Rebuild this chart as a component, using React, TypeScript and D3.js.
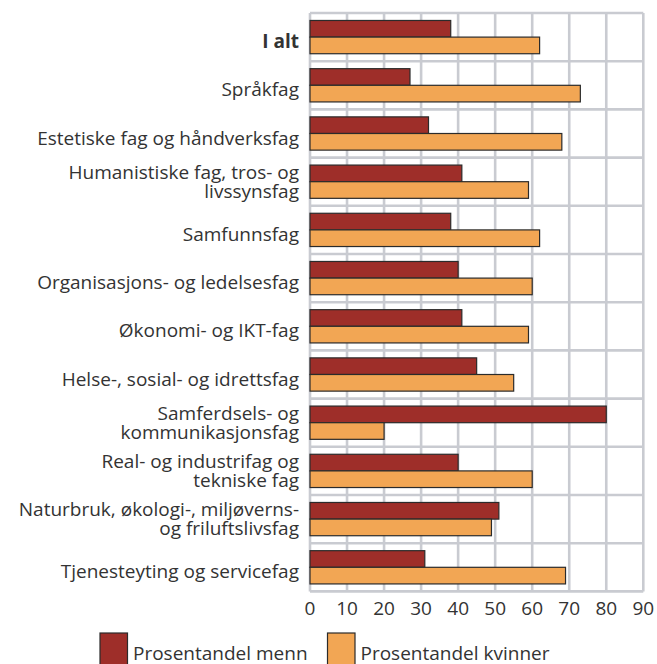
import React from "react";
import * as d3 from "d3";

const categories: string[][] = [
  ["I alt"],
  ["Språkfag"],
  ["Estetiske fag og håndverksfag"],
  ["Humanistiske fag, tros- og", "livssynsfag"],
  ["Samfunnsfag"],
  ["Organisasjons- og ledelsesfag"],
  ["Økonomi- og IKT-fag"],
  ["Helse-, sosial- og idrettsfag"],
  ["Samferdsels- og", "kommunikasjonsfag"],
  ["Real- og industrifag og", "tekniske fag"],
  ["Naturbruk, økologi-, miljøverns-", "og friluftslivsfag"],
  ["Tjenesteyting og servicefag"],
];
const menn: number[] = [38, 27, 32, 41, 38, 40, 41, 45, 80, 40, 51, 31];
const kvinner: number[] = [62, 73, 68, 59, 62, 60, 59, 55, 20, 60, 49, 69];
const seriesNames: string[] = ["Prosentandel menn", "Prosentandel kvinner"];
const xTicks: number[] = [0, 10, 20, 30, 40, 50, 60, 70, 80, 90];

const W = 657;
const H = 664;
const left = 310;
const right = 643.3;
const top = 13;
const bottom = 591.4;
const FONT = "'Open Sans', sans-serif";
const colors = ["#9e2e29", "#f2a654"];
const gridColor = "#c9cbd1";

export default function App() {
  React.useEffect(() => {
    document.body.style.margin = "0";
  }, []);
  const keys = categories.map((c) => c.join(" "));
  const x = d3.scaleLinear().domain([0, 90]).range([left, right]);
  const y = d3
    .scaleBand<string>()
    .domain(keys)
    .range([top, bottom])
    .paddingInner(0.31)
    .paddingOuter(0.155);
  const yi = d3.scaleBand<string>().domain(seriesNames).range([0, y.bandwidth()]);
  const step = y.step();
  const rows = categories.map((c, i) => ({ label: c, key: keys[i], vals: [menn[i], kvinner[i]] }));
  const fs = 19;

  return (
    <svg width={W} height={H} style={{ display: "block", position: "absolute", left: 0, top: 0 }} fontFamily={FONT}>
      <rect width={W} height={H} fill="#fff" />
      {/* grid */}
      {keys.map((k, i) => (
        <line key={"h" + i} x1={left} x2={right} y1={top + step * i} y2={top + step * i} stroke={gridColor} strokeWidth={2.6} />
      ))}
      <line x1={left} x2={right} y1={bottom} y2={bottom} stroke={gridColor} strokeWidth={2.6} />
      {xTicks.map((t) => (
        <line key={"v" + t} x1={x(t)} x2={x(t)} y1={top} y2={bottom} stroke={gridColor} strokeWidth={2.6} />
      ))}
      {/* bars */}
      {rows.map((r) =>
        r.vals.map((v, j) => (
          <rect
            key={r.key + j}
            x={x(0)}
            y={(y(r.key) as number) + (yi(seriesNames[j]) as number)}
            width={x(v) - x(0)}
            height={yi.bandwidth()}
            fill={colors[j]}
            stroke="#2b2b2b"
            strokeWidth={1.2}
          />
        ))
      )}
      {/* category labels */}
      {rows.map((r, i) => {
        const c = (y(r.key) as number) + y.bandwidth() / 2;
        const lines = r.label;
        const bases = lines.length === 1 ? [c + 11] : [c - 3, c + 16];
        return (
          <text key={"l" + i} fontSize={fs} fill="#333" textAnchor="end" fontWeight={i === 0 ? 700 : 400}>
            {lines.map((ln, k) => (
              <tspan key={k} x={299} y={bases[k]}>
                {ln}
              </tspan>
            ))}
          </text>
        );
      })}
      {/* x tick labels */}
      {xTicks.map((t) => (
        <text key={"t" + t} x={x(t)} y={615} fontSize={fs} fill="#333" textAnchor="middle">
          {t}
        </text>
      ))}
      {/* legend */}
      {seriesNames.map((s, j) => {
        const lx = j === 0 ? 100 : 327.5;
        return (
          <g key={"lg" + j}>
            <rect x={lx} y={633} width={27.5} height={34} fill={colors[j]} stroke="#2b2b2b" strokeWidth={1.2} />
            <text x={lx + 33} y={659.5} fontSize={fs} fill="#333">
              {s}
            </text>
          </g>
        );
      })}
    </svg>
  );
}
